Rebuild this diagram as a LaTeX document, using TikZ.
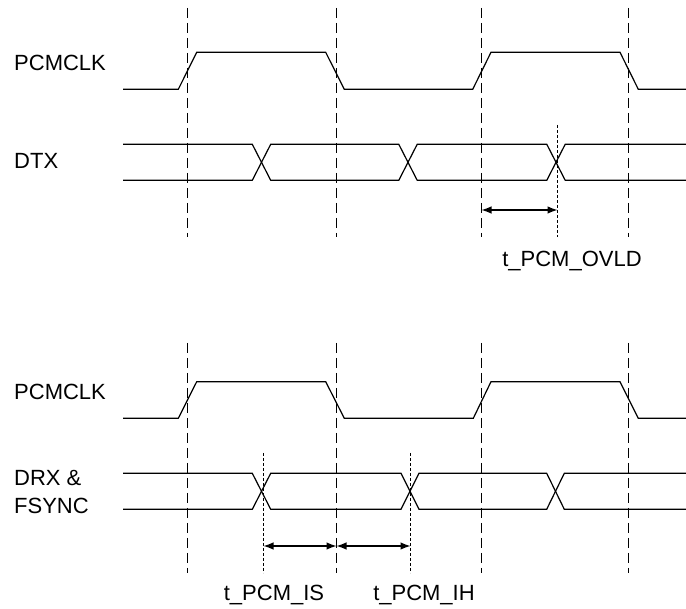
\documentclass[tikz,border=0pt]{standalone}
\usepackage{fontspec}
\setmainfont{Liberation Sans}
\usetikzlibrary{arrows.meta}
\begin{document}
\begin{tikzpicture}[x=1pt,y=-1pt,
  sig/.style={line width=1.2pt,line join=miter},
  guide/.style={line width=1.4pt,dash pattern=on 10pt off 5pt},
  fine/.style={line width=0.9pt,dash pattern=on 3pt off 2pt},
  dim/.style={line width=1.2pt,{Latex[length=10pt,width=7.5pt]}-{Latex[length=10pt,width=7.5pt]}},
  lbl/.style={inner sep=0pt,anchor=base west,font=\fontsize{22}{26}\selectfont},
  tlbl/.style={inner sep=0pt,anchor=base,font=\fontsize{22}{26}\selectfont}]
\useasboundingbox (0,0) rectangle (686,609);

% ---------- top: output timing ----------
\node[lbl] (lclk1) at (14,71) {PCMCLK};
\node[lbl] (ldtx) at (14,169) {DTX};

\foreach \x in {187.5,336.5,481.5,628.5}
  \draw[guide] (\x,8) -- (\x,237);

\draw[sig] (123,89.3) -- (178.3,89.3) -- (196.7,52.3) -- (325.7,52.3) -- (344.3,89.3)
  -- (472.7,89.3) -- (491,52.3) -- (620,52.3) -- (638.3,89.3) -- (686,89.3);

\draw[sig] (123,144.3) -- (252.3,144.3) -- (270.7,180.3) -- (398.8,180.3) -- (417.2,144.3)
  -- (546.8,144.3) -- (565.2,180.3) -- (686,180.3);
\draw[sig] (123,180.3) -- (252.3,180.3) -- (270.7,144.3) -- (398.8,144.3) -- (417.2,180.3)
  -- (546.8,180.3) -- (565.2,144.3) -- (686,144.3);

\draw[fine] (557.5,125) -- (557.5,237);
\coordinate (ov1) at (481.5,210);
\coordinate (ov2) at (557.5,210);
\draw[dim] (ov1) -- (ov2);
\node[tlbl] (lovld) at (572,266.7) {t\_PCM\_OVLD};

% ---------- bottom: input timing ----------
\node[lbl] (lclk2) at (14,400) {PCMCLK};
\node[lbl] (ldrx) at (14,486) {DRX \&};
\node[lbl] (lfs) at (14,514) {FSYNC};

\foreach \x in {187.5,336.5,481.5,628.5}
  \draw[guide] (\x,343) -- (\x,573);

\draw[sig] (123,418.3) -- (178.3,418.3) -- (196.7,381.7) -- (325.7,381.7) -- (344.3,418.3)
  -- (473.3,418.3) -- (491,381.7) -- (620,381.7) -- (638.3,418.3) -- (686,418.3);

\draw[sig] (123,473.3) -- (252.3,473.3) -- (270.7,509.3) -- (401,509.3) -- (419,473.3)
  -- (546.7,473.3) -- (564.3,509.3) -- (686,509.3);
\draw[sig] (123,509.3) -- (252.3,509.3) -- (270.7,473.3) -- (401,473.3) -- (419,509.3)
  -- (546.7,509.3) -- (564.3,473.3) -- (686,473.3);

\draw[fine] (263.5,453) -- (263.5,573);
\draw[fine] (410.5,453) -- (410.5,573);
\coordinate (is1) at (263.5,546);
\coordinate (is2) at (336.5,546);
\coordinate (ih2) at (410.5,546);
\draw[dim] (is1) -- (is2);
\draw[dim] (is2) -- (ih2);
\node[tlbl] (lis) at (274,600) {t\_PCM\_IS};
\node[tlbl] (lih) at (424,600) {t\_PCM\_IH};
\end{tikzpicture}
\end{document}
